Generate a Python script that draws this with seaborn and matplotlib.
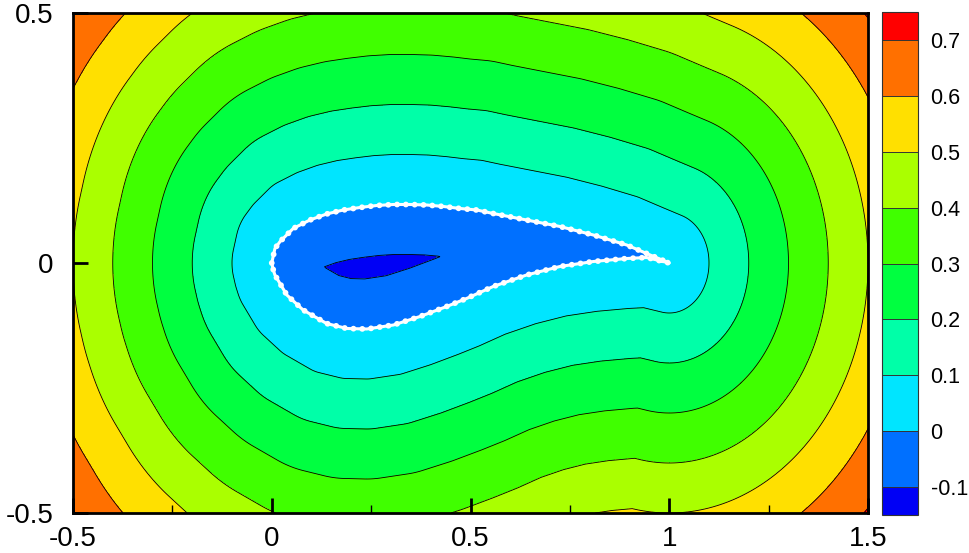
import numpy as np
import matplotlib
matplotlib.use("Agg")
import matplotlib.pyplot as plt
import seaborn as sns
from matplotlib.path import Path
from matplotlib.ticker import MultipleLocator

# airfoil outline (chord from 0 to 1)
upper_x = [0.0, 0.008, 0.021, 0.054, 0.096, 0.138, 0.180, 0.222, 0.264, 0.306, 0.348,
           0.390, 0.432, 0.474, 0.516, 0.557, 0.641, 0.725, 0.809, 0.893, 0.952, 1.0]
upper_y = [0.0, 0.029, 0.043, 0.069, 0.086, 0.098, 0.106, 0.111, 0.115, 0.117, 0.117,
           0.116, 0.113, 0.109, 0.106, 0.099, 0.086, 0.073, 0.056, 0.036, 0.016, 0.0]
lower_x = [0.0, 0.004, 0.008, 0.038, 0.079, 0.138, 0.189, 0.239, 0.306, 0.373, 0.440,
           0.490, 0.557, 0.641, 0.725, 0.809, 0.893, 0.943, 1.0]
lower_y = [0.0, -0.014, -0.024, -0.064, -0.094, -0.121, -0.131, -0.132, -0.124, -0.107,
           -0.087, -0.071, -0.047, -0.024, -0.007, 0.003, 0.009, 0.011, 0.0]

levels = [-0.15, -0.1, 0.0, 0.1, 0.2, 0.3, 0.4, 0.5, 0.6, 0.7, 0.75]
cbar_ticks = [-0.1, 0.0, 0.1, 0.2, 0.3, 0.4, 0.5, 0.6, 0.7]
band_colors = ["#0000F5", "#0070FF", "#00E5FF", "#00FFA8", "#00FF40",
               "#40FF00", "#AAFF00", "#FFE000", "#FF7000", "#FF0000"]

# closed outline: upper LE->TE, then lower TE->LE
ox = np.array(upper_x + lower_x[::-1][1:])
oy = np.array(upper_y + lower_y[::-1][1:])

# signed distance to the outline on a grid
gx = np.linspace(-0.5, 1.5, 801)
gy = np.linspace(-0.5, 0.5, 401)
X, Y = np.meshgrid(gx, gy)
px, py = X.ravel(), Y.ravel()
dist = np.full(px.shape, np.inf)
for i in range(len(ox) - 1):
    ax0, ay0 = ox[i], oy[i]
    vx, vy = ox[i + 1] - ax0, oy[i + 1] - ay0
    L2 = vx * vx + vy * vy
    if L2 == 0:
        continue
    t = np.clip(((px - ax0) * vx + (py - ay0) * vy) / L2, 0, 1)
    d = np.hypot(px - ax0 - t * vx, py - ay0 - t * vy)
    dist = np.minimum(dist, d)
inside = Path(np.column_stack([ox, oy])).contains_points(np.column_stack([px, py]))
F = np.where(inside, -dist, dist).reshape(X.shape)
F = np.clip(F, levels[0] + 1e-4, levels[-1] - 1e-4)

sns.set_theme(style="ticks")
plt.rcParams["font.family"] = ["Liberation Sans", "DejaVu Sans"]
plt.rcParams["axes.unicode_minus"] = False

fig = plt.figure(figsize=(9.69, 5.53), dpi=100)
ax = fig.add_axes([73 / 969, 40 / 553, 795 / 969, 500 / 553])
cax = fig.add_axes([882 / 969, 38 / 553, 36 / 969, 503 / 553])
ax.set_axisbelow(False)

cf = ax.contourf(X, Y, F, levels=levels, colors=band_colors)
ax.contour(X, Y, F, levels=levels[1:-1], colors="black", linewidths=0.6,
           linestyles="solid")

# airfoil surface: white line with beads
ax.plot(ox, oy, color="white", lw=2.2, zorder=5)
ax.plot(ox, oy, color="white", lw=4.2, ls=(0, (0.01, 1.5)),
        dash_capstyle="round", zorder=6)

ax.set_xlim(-0.5, 1.5)
ax.set_ylim(-0.5, 0.5)
ax.set_xticks([-0.5, 0, 0.5, 1, 1.5])
ax.set_xticklabels(["-0.5", "0", "0.5", "1", "1.5"])
ax.set_yticks([-0.5, 0, 0.5])
ax.set_yticklabels(["-0.5", "0", "0.5"])
ax.xaxis.set_minor_locator(MultipleLocator(0.25))
ax.tick_params(axis="both", which="major", direction="in", length=11, width=2,
               labelsize=20, colors="black", zorder=12)
ax.tick_params(axis="x", which="major", pad=9)
ax.tick_params(axis="y", which="major", pad=14)
ax.tick_params(axis="x", which="minor", direction="in", length=6, width=1,
               bottom=True, colors="black")
for sp in ax.spines.values():
    sp.set_linewidth(2)
    sp.set_color("black")
    sp.set_zorder(10)

cb = fig.colorbar(cf, cax=cax, ticks=cbar_ticks, drawedges=True,
                  spacing="proportional")
cb.ax.set_yticklabels(["-0.1", "0", "0.1", "0.2", "0.3", "0.4", "0.5", "0.6", "0.7"])
cb.ax.tick_params(length=0, labelsize=15.5, pad=9, colors="black")
cb.outline.set_linewidth(0.8)
cb.outline.set_edgecolor("#333333")
cb.dividers.set_color("#333333")
cb.dividers.set_linewidth(0.7)

fig.savefig("out.png", dpi=100)
